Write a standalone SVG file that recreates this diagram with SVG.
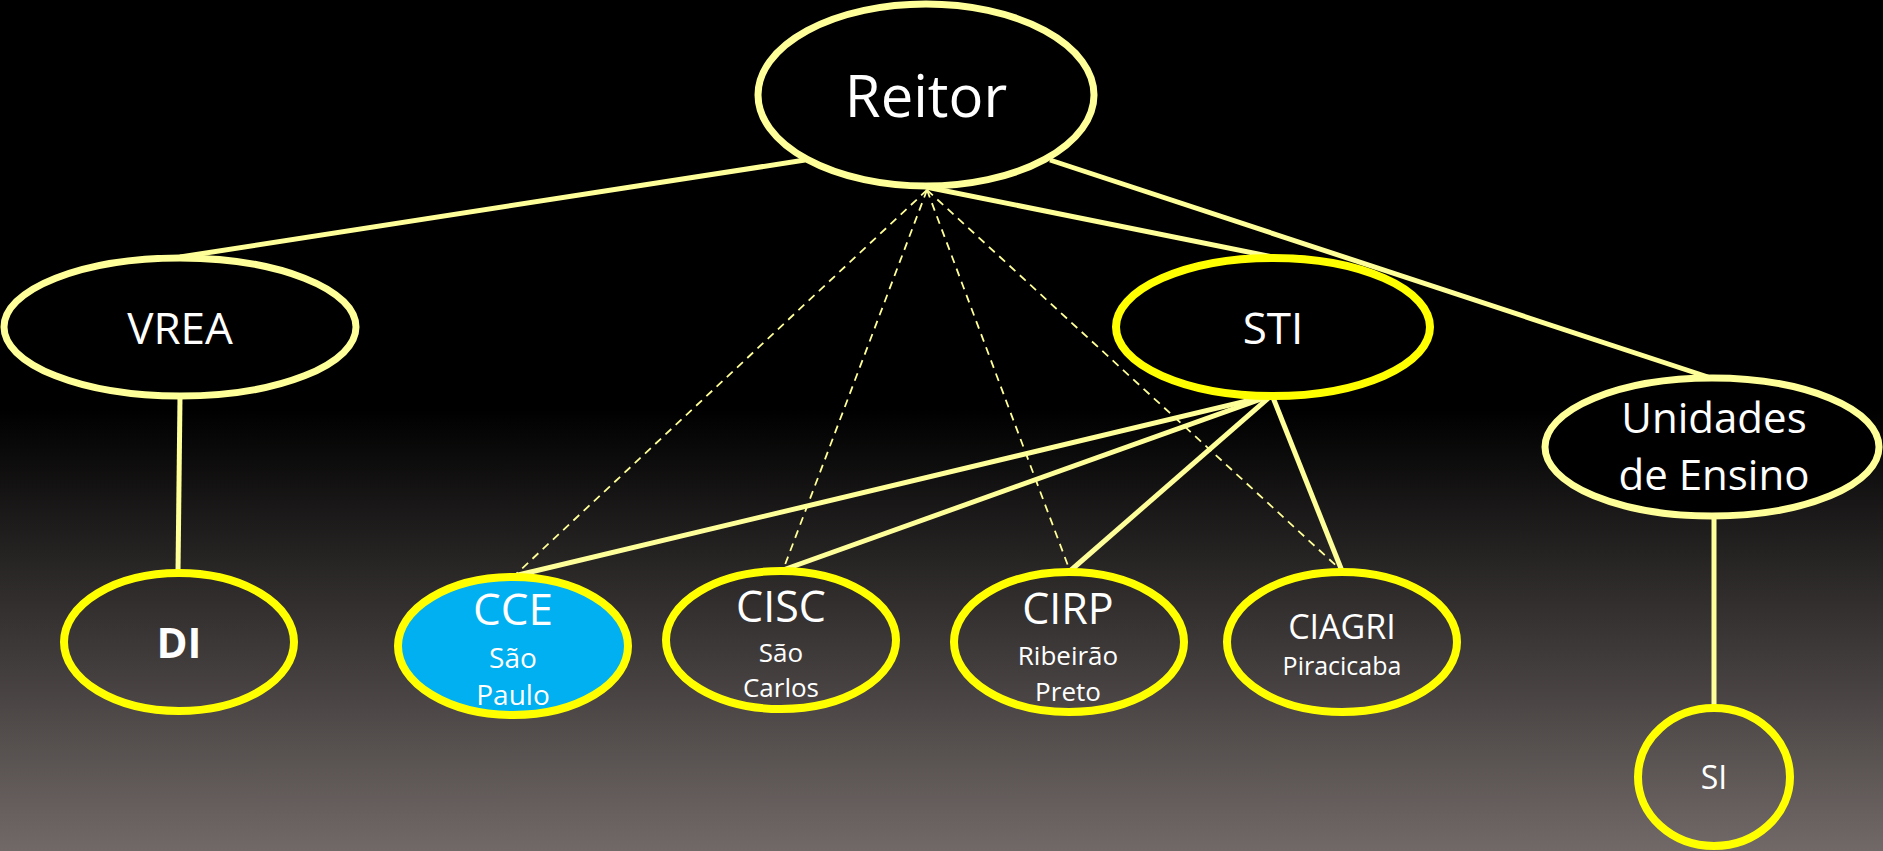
<svg xmlns="http://www.w3.org/2000/svg" width="1883" height="851" viewBox="0 0 1883 851">
<defs>
<linearGradient id="bg" x1="0" y1="0" x2="0" y2="1">
<stop offset="0" stop-color="#000000"/>
<stop offset="0.48" stop-color="#000000"/>
<stop offset="1" stop-color="#716968"/>
</linearGradient>
<style>
.t{font-family:"Open Sans","Liberation Sans",sans-serif;fill:#ffffff;text-anchor:middle}
.pale{stroke:#FFFF99;stroke-width:7;fill:#000000}
.bright{stroke:#FFFF00;stroke-width:8;fill:#000000}
.low{stroke:#FFFF00;stroke-width:8;fill:none}
.c{stroke:#FFFF99;stroke-width:5;fill:none}
.d{stroke:#FFFF99;stroke-width:1.8;stroke-dasharray:8 6;fill:none}
</style>
</defs>
<rect x="0" y="0" width="1883" height="851" fill="url(#bg)"/>
<g id="connectors">
<line class="c" x1="805" y1="160" x2="180" y2="257"/>
<line class="c" x1="926" y1="187" x2="1273" y2="257"/>
<line class="c" x1="1050" y1="160" x2="1708" y2="377"/>
<line class="c" x1="180" y1="397" x2="178" y2="572"/>
<line class="c" x1="1714" y1="517" x2="1714" y2="706"/>
<line class="c" x1="1272" y1="395" x2="514" y2="576"/>
<line class="c" x1="1272" y1="395" x2="783" y2="570"/>
<line class="c" x1="1272" y1="395" x2="1070" y2="571"/>
<line class="c" x1="1272" y1="395" x2="1342" y2="571"/>
<line class="d" x1="927" y1="190" x2="514" y2="576"/>
<line class="d" x1="927" y1="190" x2="783" y2="570"/>
<line class="d" x1="927" y1="190" x2="1070" y2="571"/>
<line class="d" x1="927" y1="190" x2="1342" y2="571"/>
</g>
<g id="reitor">
<ellipse class="pale" cx="926" cy="95" rx="168" ry="91"/>
<text class="t" x="926" y="117" font-size="58">Reitor</text>
</g>
<g id="vrea">
<ellipse class="pale" cx="180" cy="327" rx="176" ry="69"/>
<text class="t" x="180" y="344" font-size="44">VREA</text>
</g>
<g id="sti">
<ellipse class="bright" cx="1273" cy="327" rx="157" ry="69"/>
<text class="t" x="1273" y="344" font-size="44">STI</text>
</g>
<g id="unidades">
<ellipse class="pale" cx="1712" cy="447" rx="167" ry="69"/>
<text class="t" x="1714" y="433" font-size="42">Unidades</text>
<text class="t" x="1714" y="490" font-size="42">de Ensino</text>
</g>
<g id="di">
<ellipse class="low" cx="179" cy="642" rx="115" ry="69"/>
<text class="t" x="179" y="658" font-size="42" font-weight="bold">DI</text>
</g>
<g id="cce">
<ellipse class="low" cx="513" cy="646" rx="115" ry="69" style="fill:#00B0F0"/>
<text class="t" x="513" y="625" font-size="44">CCE</text>
<text class="t" x="513" y="668" font-size="28">São</text>
<text class="t" x="513" y="705" font-size="28">Paulo</text>
</g>
<g id="cisc">
<ellipse class="low" cx="781" cy="640" rx="115" ry="69"/>
<text class="t" x="781" y="622" font-size="43">CISC</text>
<text class="t" x="781" y="662" font-size="26">São</text>
<text class="t" x="781" y="697" font-size="26">Carlos</text>
</g>
<g id="cirp">
<ellipse class="low" cx="1069" cy="642" rx="115" ry="70"/>
<text class="t" x="1068" y="624" font-size="43">CIRP</text>
<text class="t" x="1068" y="665" font-size="26">Ribeirão</text>
<text class="t" x="1068" y="701" font-size="26">Preto</text>
</g>
<g id="ciagri">
<ellipse class="low" cx="1342" cy="642" rx="115" ry="70"/>
<text class="t" x="1342" y="639" font-size="34">CIAGRI</text>
<text class="t" x="1342" y="675" font-size="25">Piracicaba</text>
</g>
<g id="si">
<ellipse class="low" cx="1714" cy="777" rx="76" ry="69"/>
<text class="t" x="1714" y="789" font-size="32">SI</text>
</g>
</svg>
